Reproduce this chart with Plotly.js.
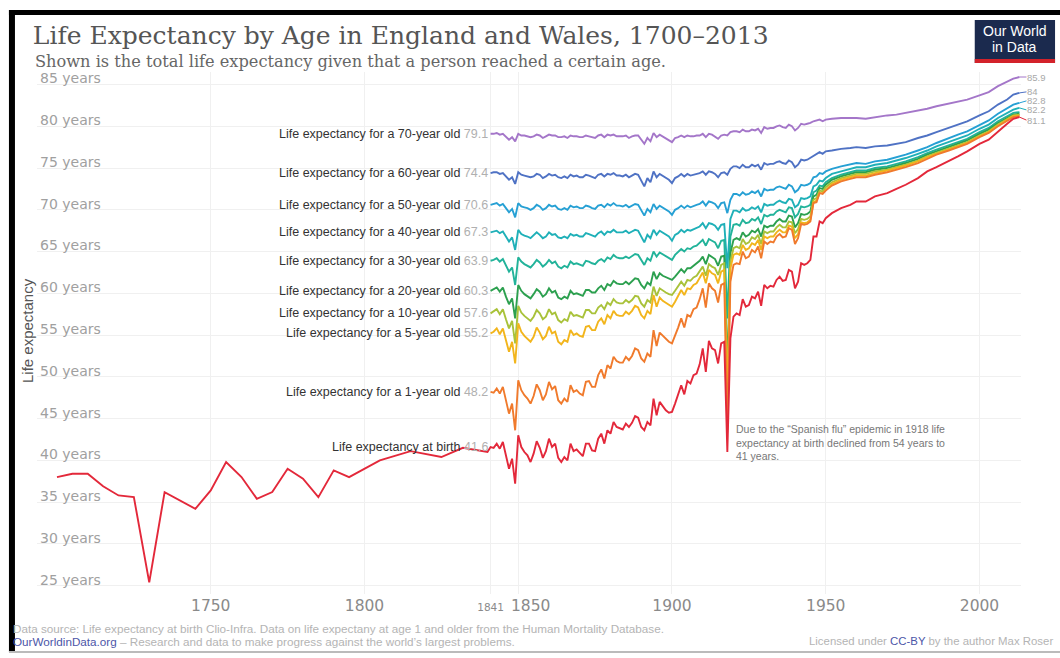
<!DOCTYPE html>
<html>
<head>
<meta charset="utf-8">
<script src="https://cdn.plot.ly/plotly-3.0.1.min.js"></script>
<style>
html,body{margin:0;padding:0;background:#fff;}
#chart{width:1060px;height:658px;}
</style>
</head>
<body>
<div id="chart"></div>
<script>
// ---------- DATA ----------
const earlyYears = [1700,1705,1710,1715,1720,1725,1730,1735,1745,1750,1755,1760,1765,1770,1775,1780,1785,1790,1795,1805,1815,1825,1832,1840];
const earlyBirth = [38.0,38.4,38.4,36.9,35.8,35.6,25.4,36.2,34.2,36.4,39.8,38.0,35.4,36.2,39.0,37.8,35.6,38.8,38.0,40.0,41.1,40.4,41.5,41.0];

const years = [1841,1842,1843,1844,1845,1846,1847,1848,1849,1850,
1851,1852,1853,1854,1855,1856,1857,1858,1859,1860,
1861,1862,1863,1864,1865,1866,1867,1868,1869,1870,
1871,1872,1873,1874,1875,1876,1877,1878,1879,1880,
1881,1882,1883,1884,1885,1886,1887,1888,1889,1890,
1891,1892,1893,1894,1895,1896,1897,1898,1899,1900,
1901,1902,1903,1904,1905,1906,1907,1908,1909,1910,
1911,1912,1913,1914,1915,1916,1917,1918,1919,1920,
1921,1922,1923,1924,1925,1926,1927,1928,1929,1930,
1931,1932,1933,1934,1935,1936,1937,1938,1939,1940,
1941,1942,1943,1944,1945,1946,1947,1948,1949,1950,
1952,1955,1958,1960,1963,1966,1970,1973,1976,1980,1983,1986,1990,1993,1996,2000,2003,2006,2009,2011,2013];

const e70 = [79.1,79.1,79.2,79.0,79.1,78.8,78.4,78.7,78.2,79.1,
78.9,78.9,78.8,78.7,78.8,79.0,78.9,78.6,78.8,79.0,
78.9,78.9,78.7,78.7,78.8,78.6,78.9,78.8,78.8,78.7,
78.7,78.9,78.8,78.7,78.6,78.9,79.0,78.7,79.0,78.9,
79.0,78.8,78.8,78.8,78.9,78.6,78.8,78.9,78.9,78.4,
77.9,78.6,78.2,79.2,78.7,79.0,78.8,78.6,78.4,78.1,
78.6,78.7,78.9,78.7,78.9,78.8,78.8,78.9,78.9,79.1,
78.7,79.1,79.0,78.8,78.5,78.9,79.0,78.9,79.3,79.4,
79.4,79.3,79.6,79.4,79.4,79.6,79.5,79.7,79.2,79.9,
79.7,79.8,79.8,80.0,80.1,79.9,79.8,80.2,80.0,79.5,
79.8,80.3,80.2,80.3,80.4,80.6,80.7,80.8,80.6,80.8,
80.9,81.0,81.0,81.0,80.9,81.1,81.3,81.4,81.6,81.9,82.1,82.4,82.7,82.9,83.2,83.7,84.1,84.8,85.3,85.7,85.9];

const e60 = [74.4,74.5,74.5,74.3,74.4,74.0,73.6,73.9,73.1,74.5,
74.2,74.1,74.0,73.9,74.0,74.3,74.2,73.8,74.0,74.3,
74.1,74.2,73.9,73.8,74.0,73.8,74.2,74.0,74.1,73.9,
73.9,74.2,74.1,73.9,73.8,74.2,74.3,74.0,74.3,74.2,
74.4,74.1,74.1,74.0,74.2,73.9,74.1,74.3,74.2,73.5,
72.8,73.8,73.3,74.6,73.9,74.3,74.1,73.8,73.6,73.2,
73.8,74.0,74.3,74.0,74.3,74.1,74.2,74.3,74.4,74.6,
74.2,74.6,74.5,74.3,73.9,74.4,74.5,74.2,74.9,75.2,
75.2,75.0,75.4,75.1,75.1,75.4,75.2,75.4,74.8,75.6,
75.4,75.5,75.5,75.7,75.8,75.6,75.5,75.9,75.7,75.1,
75.4,76.0,75.9,76.0,76.2,76.5,76.6,76.9,76.7,77.0,
77.1,77.3,77.4,77.5,77.4,77.6,77.7,77.9,78.1,78.6,78.9,79.3,79.8,80.2,80.6,81.3,81.8,82.6,83.2,83.8,84];

const e50 = [70.6,70.7,70.8,70.5,70.7,70.2,69.7,70.1,69.1,70.8,
70.4,70.3,70.2,70.0,70.2,70.6,70.4,70.0,70.2,70.6,
70.4,70.5,70.1,70.0,70.2,70.0,70.5,70.3,70.4,70.2,
70.2,70.5,70.4,70.2,70.1,70.5,70.6,70.3,70.7,70.5,
70.8,70.5,70.5,70.4,70.6,70.3,70.5,70.7,70.6,69.9,
69.3,70.1,69.7,70.7,70.1,70.5,70.3,70.0,69.8,69.4,
70.0,70.2,70.5,70.2,70.5,70.3,70.5,70.6,70.7,71.0,
70.5,71.0,70.9,70.7,70.2,70.8,70.9,69.6,71.2,71.9,
71.9,71.7,72.1,71.8,71.9,72.2,72.0,72.3,71.6,72.5,
72.3,72.4,72.4,72.7,72.8,72.6,72.5,73.0,72.8,72.1,
72.4,73.0,72.9,73.0,73.2,73.9,74.0,74.4,74.3,74.6,
74.9,75.2,75.4,75.6,75.5,75.8,76.0,76.3,76.6,77.1,77.5,78.0,78.6,79.0,79.4,80.2,80.7,81.5,82.1,82.6,82.8];

const e40 = [67.3,67.4,67.5,67.2,67.4,66.8,66.2,66.7,65.2,67.6,
67.1,66.9,66.8,66.6,66.9,67.3,67.0,66.6,66.8,67.3,
67.0,67.1,66.7,66.6,66.8,66.6,67.1,66.9,67.0,66.8,
66.8,67.2,67.1,66.9,66.8,67.2,67.4,67.0,67.4,67.3,
67.6,67.3,67.3,67.3,67.5,67.2,67.4,67.6,67.5,66.8,
66.1,67.0,66.6,67.6,67.0,67.5,67.3,67.0,66.8,66.3,
67.0,67.2,67.6,67.3,67.6,67.5,67.7,67.8,68.0,68.4,
67.8,68.4,68.3,68.1,67.6,68.2,68.3,63.0,68.9,69.9,
69.9,69.7,70.2,69.9,70.0,70.3,70.1,70.4,69.7,70.7,
70.5,70.6,70.6,70.9,71.1,70.9,70.8,71.3,71.2,70.3,
70.6,71.4,71.3,71.4,71.6,72.8,73.0,73.5,73.4,73.8,
74.3,74.6,74.9,75.1,75.1,75.4,75.6,75.9,76.2,76.7,77.1,77.6,78.1,78.5,78.9,79.7,80.2,81.0,81.6,82.0,82.2];

const e30 = [63.9,64.0,64.2,63.8,64.1,63.3,62.6,63.1,61.0,64.3,
63.8,63.5,63.3,63.1,63.5,64.0,63.7,63.2,63.5,64.0,
63.6,63.8,63.2,63.0,63.3,63.1,63.8,63.5,63.6,63.4,
63.3,63.9,63.8,63.6,63.5,63.9,64.1,63.8,64.3,64.1,
64.6,64.3,64.2,64.2,64.4,64.2,64.4,64.7,64.6,64.0,
63.4,64.2,63.9,65.0,64.4,64.9,64.7,64.5,64.3,64.0,
64.6,64.9,65.3,65.0,65.4,65.3,65.6,65.7,66.0,66.4,
65.7,66.5,66.3,66.1,65.4,66.3,66.4,57.0,66.8,68.2,
68.3,68.1,68.8,68.4,68.5,68.9,68.7,69.1,68.3,69.4,
69.2,69.4,69.4,69.8,70.0,69.8,69.7,70.3,70.2,69.1,
69.5,70.4,70.3,70.4,70.6,72.1,72.3,72.9,72.8,73.3,
73.8,74.2,74.5,74.7,74.7,75.0,75.2,75.5,75.8,76.3,76.8,77.2,77.7,78.1,78.5,79.3,79.8,80.6,81.2,81.6,81.7];

const e20 = [60.3,60.5,60.7,60.2,60.7,59.6,58.7,59.4,57.0,61.0,
60.3,59.9,59.7,59.4,59.9,60.5,60.2,59.6,59.9,60.6,
60.1,60.3,59.5,59.3,59.6,59.4,60.3,59.9,60.0,59.8,
59.7,60.4,60.4,60.1,60.1,60.6,60.9,60.4,61.1,60.9,
61.5,61.2,61.1,61.1,61.4,61.1,61.4,61.8,61.7,61.0,
60.6,61.3,61.0,62.6,61.7,62.4,62.1,61.9,61.7,61.6,
62.0,62.4,62.9,62.5,63.0,63.0,63.3,63.5,63.9,64.4,
63.5,64.6,64.3,64.1,63.3,64.4,64.5,50.5,64.8,66.4,
66.6,66.4,67.3,66.8,67.0,67.5,67.3,67.7,66.8,68.1,
67.9,68.1,68.1,68.6,68.9,68.6,68.6,69.3,69.2,67.9,
68.4,69.5,69.4,69.5,69.8,71.6,71.8,72.6,72.5,73.0,
73.6,74.0,74.3,74.5,74.5,74.8,75.0,75.3,75.6,76.1,76.6,77.0,77.5,77.9,78.3,79.1,79.6,80.4,81.0,81.4,81.5];

const e10 = [57.6,57.8,58.1,57.5,58.1,56.9,55.8,56.7,54.0,58.5,
57.7,57.3,57.0,56.7,57.2,58.0,57.6,56.9,57.2,58.1,
57.5,57.7,56.8,56.5,56.9,56.7,57.8,57.3,57.4,57.2,
57.1,58.0,58.0,57.6,57.6,58.3,58.6,58.1,58.9,58.6,
59.3,58.9,58.8,58.8,59.2,58.9,59.2,59.7,59.6,58.8,
58.4,59.2,58.9,60.8,59.7,60.6,60.3,60.1,59.9,59.8,
60.3,60.8,61.4,60.9,61.6,61.5,61.9,62.1,62.6,63.2,
62.1,63.5,63.2,63.0,62.2,63.4,63.6,48.5,63.8,65.4,
65.6,65.4,66.5,65.9,66.1,66.7,66.5,67.0,65.9,67.4,
67.2,67.4,67.4,67.9,68.2,67.9,67.9,68.6,68.5,67.2,
67.7,68.9,68.8,68.9,69.2,71.2,71.4,72.3,72.2,72.7,
73.3,73.8,74.1,74.3,74.3,74.6,74.8,75.1,75.4,75.9,76.4,76.8,77.3,77.7,78.1,78.9,79.4,80.2,80.9,81.3,81.4];

const e5 = [55.2,55.4,55.8,55.1,55.8,54.4,53.0,54.2,51.6,56.4,
55.4,54.9,54.6,54.2,54.8,55.9,55.3,54.5,54.9,56.0,
55.2,55.4,54.2,53.9,54.4,54.2,55.6,55.0,55.2,54.9,
54.8,56.0,56.1,55.6,55.6,56.6,57.0,56.3,57.4,57.0,
57.9,57.4,57.3,57.3,57.8,57.5,57.9,58.5,58.3,57.4,
57.0,57.9,57.5,59.8,58.4,59.5,59.1,58.9,58.6,58.4,
59.0,59.7,60.4,59.8,60.6,60.5,61.0,61.2,61.8,62.5,
61.2,62.8,62.4,62.2,61.2,62.6,62.8,47.0,63.0,64.6,
64.8,64.6,65.8,65.2,65.4,66.0,65.8,66.4,65.2,66.8,
66.6,66.8,66.8,67.3,67.6,67.3,67.3,68.1,68.0,66.6,
67.1,68.5,68.4,68.5,68.8,70.9,71.1,72.0,72.0,72.4,
73.1,73.6,73.9,74.1,74.1,74.4,74.7,75.0,75.3,75.8,76.3,76.7,77.2,77.6,78.0,78.8,79.3,80.1,80.8,81.2,81.3];

const e1 = [48.2,48.1,48.6,48.0,48.8,47.2,45.6,46.8,43.6,49.6,
48.4,47.8,47.4,46.8,47.7,49.1,48.4,47.2,47.9,49.4,
48.5,48.9,47.2,46.8,47.4,47.0,49.0,48.2,48.4,48.0,
47.8,49.4,49.5,48.8,48.8,50.2,50.9,49.8,51.4,51.0,
52.4,51.9,51.7,51.7,52.4,52.0,52.5,53.4,53.2,52.2,
51.8,52.8,52.4,55.6,53.7,55.3,54.9,54.5,54.2,54.0,
54.9,55.9,57.0,55.9,57.4,57.2,58.1,58.3,59.3,60.6,
58.3,61.2,60.6,60.3,58.9,61.0,61.2,43.6,61.4,63.4,
63.6,63.5,65.0,64.2,64.4,65.2,64.9,65.6,64.2,66.2,
65.9,66.2,66.1,66.8,67.1,66.7,66.8,67.8,67.6,65.9,
66.6,68.3,68.2,68.3,68.6,70.8,70.9,72.0,71.9,72.3,
72.9,73.4,73.7,73.9,73.9,74.2,74.5,74.8,75.1,75.6,76.1,76.6,77.1,77.5,77.9,78.7,79.2,80.0,80.7,81.1,81.2];

const e0 = [41.6,41.5,42.0,41.4,42.2,40.5,39.0,40.2,37.2,43.0,
41.6,41.0,40.6,39.8,40.8,42.3,41.5,40.3,41.1,42.6,
41.6,42.0,40.3,39.8,40.4,40.0,42.0,41.1,41.3,40.9,
40.5,42.0,42.0,41.2,41.1,42.6,43.2,42.0,43.6,43.2,
44.6,44.0,43.8,43.7,44.4,44.0,44.5,45.3,45.1,44.0,
43.6,44.6,44.2,47.4,45.4,47.0,46.5,46.0,45.7,45.8,
46.8,47.9,49.0,47.9,49.5,49.2,50.2,50.4,51.5,53.4,
50.6,54.3,53.4,53.2,51.6,54.0,54.2,41.0,54.6,57.2,
57.6,57.4,59.3,58.4,58.6,59.6,59.4,60.2,58.5,61.0,
60.6,60.9,60.8,61.6,62.0,61.5,61.6,62.8,62.6,60.6,
61.4,63.6,63.4,63.6,64.0,66.8,66.8,68.6,68.4,69.0,
69.6,70.2,70.6,71.0,71.0,71.6,72.0,72.5,73.0,73.8,74.6,75.1,75.8,76.4,77.0,77.9,78.4,79.4,80.3,80.9,81.1];

const seriesNames = [
  "Life expectancy for a 70-year old",
  "Life expectancy for a 60-year old",
  "Life expectancy for a 50-year old",
  "Life expectancy for a 40-year old",
  "Life expectancy for a 30-year old",
  "Life expectancy for a 20-year old",
  "Life expectancy for a 10-year old",
  "Life expectancy for a 5-year old",
  "Life expectancy for a 1-year old",
  "Life expectancy at birth"
];
const seriesValues = [e70, e60, e50, e40, e30, e20, e10, e5, e1, e0];
const seriesColors = ["#a476c9","#4f72c4","#26a0d4","#1fb0b8","#22b39a","#2ca04f","#a9c23a","#f2b51c","#f07a2c","#e3283a"];
const endLabelSeries = [0, 1, 2, 3, 9];
const endLabelNudge = [0, 1, 2, -2, -3];

const yTickVals = [25,30,35,40,45,50,55,60,65,70,75,80,85];
const yTickText = ["25 years","30 years","35 years","40 years","45 years","50 years","55 years","60 years","65 years","70 years","75 years","80 years","85 years"];
const xTickVals = [1750,1800,1841,1850,1900,1950,2000];
const xTickText = ["1750","1800","<span style='font-size:10.5px'>1841</span>","","1900","1950","2000"];
const shiftedTickYear = 1850;

// ---------- TRACES ----------
const traces = seriesValues.map((vals, i) => {
  const isBirth = i === 9;
  return {
    type: "scatter",
    mode: "lines",
    x: isBirth ? earlyYears.concat(years) : years,
    y: isBirth ? earlyBirth.concat(vals) : vals,
    line: {color: seriesColors[i], width: 1.9},
    hoverinfo: "skip",
    showlegend: false
  };
});

// ---------- ANNOTATIONS ----------
const annotations = [];
seriesValues.forEach((vals, i) => {
  annotations.push({
    x: years[0], y: vals[0], xref: "x", yref: "y",
    xanchor: "right", yanchor: "middle", xshift: -1, showarrow: false,
    text: seriesNames[i] + " <span style='color:#b0b0b0'>" + vals[0].toFixed(1) + "</span>",
    font: {family: "Liberation Sans, Arial, sans-serif", size: 12.5, color: "#333"}
  });
});
endLabelSeries.forEach((i, k) => {
  const vals = seriesValues[i];
  annotations.push({
    x: years[years.length - 1], y: vals[vals.length - 1], xref: "x", yref: "y",
    xanchor: "left", yanchor: "middle", showarrow: true, arrowhead: 0, arrowwidth: 1,
    arrowcolor: seriesColors[i], ax: 7, ay: -endLabelNudge[k], standoff: 0, borderpad: 0,
    text: String(vals[vals.length - 1]),
    font: {family: "Liberation Sans, Arial, sans-serif", size: 9.5, color: "#a8a8a8"}
  });
});
// 1850 tick label (nudged right of the 1841 label, as in the original)
annotations.push({
  x: shiftedTickYear, y: -0.0225, xref: "x", yref: "paper", xanchor: "center", yanchor: "middle",
  xshift: 12, showarrow: false, text: String(shiftedTickYear),
  font: {family: "DejaVu Sans, sans-serif", size: 15.5, color: "#8a8a8a"}
});
// Spanish flu note
annotations.push({
  x: 1920.3, y: 44.7, xref: "x", yref: "y", xanchor: "left", yanchor: "top", align: "left",
  showarrow: false,
  text: "Due to the “Spanish flu” epidemic in 1918 life<br>expectancy at birth declined from 54 years to<br>41 years.",
  font: {family: "Liberation Sans, Arial, sans-serif", size: 10.5, color: "#777"}
});
// subtitle
annotations.push({
  x: -0.004, y: 1.021, xref: "paper", yref: "paper", xanchor: "left", yanchor: "middle",
  showarrow: false,
  text: "Shown is the total life expectancy given that a person reached a certain age.",
  font: {family: "DejaVu Serif, serif", size: 16.2, color: "#666"}
});
// y axis title
annotations.push({
  x: -0.0095, y: 0.505, xref: "paper", yref: "paper", xanchor: "center", yanchor: "middle",
  textangle: -90, showarrow: false, text: "Life expectancy",
  font: {family: "Liberation Sans, Arial, sans-serif", size: 15, color: "#555"}
});
// footer
annotations.push({
  x: -0.0264, y: -0.067, xref: "paper", yref: "paper", xanchor: "left", yanchor: "middle",
  showarrow: false,
  text: "Data source: Life expectancy at birth Clio-Infra. Data on life expectany at age 1 and older from the Human Mortality Database.",
  font: {family: "Liberation Sans, Arial, sans-serif", size: 11.7, color: "#b4b4b4"}
});
annotations.push({
  x: -0.0264, y: -0.0905, xref: "paper", yref: "paper", xanchor: "left", yanchor: "middle",
  showarrow: false,
  text: "<span style='color:#4c56a8'>OurWorldinData.org</span> – Research and data to make progress against the world’s largest problems.",
  font: {family: "Liberation Sans, Arial, sans-serif", size: 11.7, color: "#b4b4b4"}
});
annotations.push({
  x: 1.0346, y: -0.0905, xref: "paper", yref: "paper", xanchor: "right", yanchor: "middle",
  showarrow: false,
  text: "Licensed under <span style='color:#4c56a8'>CC-BY</span> by the author Max Roser",
  font: {family: "Liberation Sans, Arial, sans-serif", size: 11.4, color: "#b4b4b4"}
});
// logo text
annotations.push({
  x: 0.9939, y: 1.0785, xref: "paper", yref: "paper", xanchor: "center", yanchor: "middle",
  showarrow: false, text: "Our World",
  font: {family: "Liberation Sans, Arial, sans-serif", size: 14, color: "#fff"}
});
annotations.push({
  x: 0.9939, y: 1.0475, xref: "paper", yref: "paper", xanchor: "center", yanchor: "middle",
  showarrow: false, text: "in Data",
  font: {family: "Liberation Sans, Arial, sans-serif", size: 14, color: "#fff"}
});

// ---------- SHAPES ----------
const shapes = [
  {type: "rect", xref: "paper", yref: "paper", x0: 0.953, x1: 1.0346, y0: 1.0172, y1: 1.0996,
   fillcolor: "#1b2a4e", line: {width: 0}, layer: "above"},
  {type: "rect", xref: "paper", yref: "paper", x0: 0.953, x1: 1.0346, y0: 1.0172, y1: 1.0249,
   fillcolor: "#d3222a", line: {width: 0}, layer: "above"},
  {type: "rect", xref: "paper", yref: "paper", x0: -0.0285, x1: -0.0224, y0: -0.111, y1: 1.1188,
   fillcolor: "#000", line: {width: 0}, layer: "above"},
  {type: "rect", xref: "paper", yref: "paper", x0: -0.0285, x1: 1.04, y0: 1.1092, y1: 1.1188,
   fillcolor: "#000", line: {width: 0}, layer: "above"},
  {type: "line", xref: "paper", yref: "paper", x0: -0.0285, x1: 1.04, y0: -0.1111, y1: -0.1111,
   line: {color: "#bbbbbb", width: 2}, layer: "above"}
];

const layout = {
  width: 1060, height: 658,
  margin: {l: 37, r: 39, t: 72, b: 64},
  paper_bgcolor: "#fff", plot_bgcolor: "#fff",
  showlegend: false,
  hovermode: false,
  title: {
    text: "Life Expectancy by Age in England and Wales, 1700–2013",
    xref: "container", yref: "container", x: 0.031, xanchor: "left", y: 0.946, yanchor: "middle",
    font: {family: "DejaVu Serif, serif", size: 25, color: "#555"}
  },
  xaxis: {
    range: [1693.5, 2013.5], tickvals: xTickVals, ticktext: xTickText, tickangle: 0,
    showgrid: true, gridcolor: "#f0f0f0", zeroline: false, showline: false, ticks: "",
    tickfont: {family: "DejaVu Sans, sans-serif", size: 15.5, color: "#8a8a8a"}
  },
  yaxis: {
    range: [24, 86.5], tickvals: yTickVals, ticktext: yTickText,
    ticklabelposition: "inside", ticklabelshift: -6, ticklabeloverflow: "allow",
    showgrid: true, gridcolor: "#f0f0f0", zeroline: false, showline: false, ticks: "",
    tickfont: {family: "DejaVu Sans, sans-serif", size: 14, color: "#a0a0a0"}
  },
  annotations: annotations,
  shapes: shapes
};

Plotly.newPlot("chart", traces, layout, {displayModeBar: false, staticPlot: true});
</script>
</body>
</html>
